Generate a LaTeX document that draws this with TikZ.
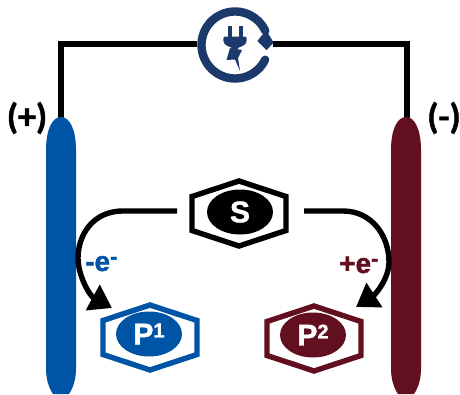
\documentclass[tikz,border=0pt]{standalone}
\usepackage{fontspec}
\setmainfont[BoldFeatures={FakeBold=1.3}]{Liberation Sans}
\newfontfamily\callab[BoldFeatures={FakeBold=1.3}]{Carlito}
\usetikzlibrary{arrows.meta,shapes.geometric}
\definecolor{eblue}{HTML}{0054A6}
\definecolor{emaroon}{HTML}{620F20}
\definecolor{iconblue}{HTML}{1B3A6B}
\tikzset{
  wire/.style={line width=5.4pt,black},
  curvearrow/.style={line width=5.4pt,black,-{Triangle[length=22pt,width=28pt]}},
  hexline/.style={line width=5.4pt,line join=miter},
  core/.style={ellipse,minimum width=66pt,minimum height=45pt,inner sep=0pt,text=white,font=\bfseries\fontsize{30}{30}\selectfont},
  chg/.style={font=\bfseries\fontsize{28}{28}\selectfont,inner sep=0pt},
  pol/.style={font=\callab\bfseries\fontsize{36}{36}\selectfont,inner sep=0pt,text=black},
}
\newcommand{\hexagonat}[3]{% cx cy colour
  \draw[hexline,draw=#3] (#1,#2-32) -- (#1+47,#2-16.5) -- (#1+47,#2+17.5) -- (#1,#2+33) -- (#1-47,#2+17.5) -- (#1-47,#2-16.5) -- cycle;
}
\begin{document}
\begin{tikzpicture}[x=1pt,y=-1pt]
\useasboundingbox (0,0) rectangle (460,394);
% wire
\coordinate (wL) at (61,122);
\coordinate (wTL) at (61,44);
\coordinate (iL) at (200,44);
\coordinate (iR) at (272,44);
\coordinate (wTR) at (407,44);
\coordinate (wR) at (407,122);
\draw[wire,line join=miter] (wL) -- (wTL) -- (iL);
\draw[wire,line join=miter] (iR) -- (wTR) -- (wR);
% electrodes
\fill[eblue] (46,150) .. controls (46,130) and (52,117) .. (61,117) .. controls (70,117) and (76,130) .. (76,150)
  -- (76,368) .. controls (76,380) and (73,388) .. (69,394) -- (53,394) .. controls (49,388) and (46,380) .. (46,368) -- cycle;
\fill[emaroon] (391,150) .. controls (391,130) and (397,117) .. (406,117) .. controls (415,117) and (421,130) .. (421,150)
  -- (421,368) .. controls (421,380) and (418,388) .. (414,394) -- (398,394) .. controls (394,388) and (391,380) .. (391,368) -- cycle;
% power icon
\fill[white] (235,45) circle (38);
\draw[iconblue,line width=8.4pt,line cap=round] (235,45) ++(26:33.5) arc (26:335:33.5);
\fill[iconblue,line join=round,draw=iconblue,line width=1pt] (273,42.5) -- (266.5,49.5) -- (258,41) -- (266,31) -- cycle;
% plug
\fill[iconblue] (227.5,26) rectangle (231.5,37);
\fill[iconblue] (238.5,26) rectangle (242.5,37);
\fill[iconblue,rounded corners=2pt] (223.3,36.5) -- (246.7,36.5) -- (246.7,40) .. controls (246,45) and (240,47) .. (238,47) -- (238,50) -- (232,50) -- (232,47) .. controls (230,47) and (224,45) .. (223.3,40) -- cycle;
\fill[iconblue] (230,48) -- (242,50) -- (238,58) -- (240,71) -- (235,59.5) -- (226.5,60) -- cycle;
% hexagons
\hexagonat{239}{213}{black}
\hexagonat{150}{337}{eblue}
\hexagonat{314}{338}{emaroon}
\node[core,fill=black] (S) at (240,212) {S};
\node[core,fill=eblue] (P1) at (149,334) {P\raisebox{7pt}{\fontsize{20}{20}\selectfont 1}};
\node[core,fill=emaroon] (P2) at (313,335) {P\raisebox{7pt}{\fontsize{20}{20}\selectfont 2}};
% connectors
\coordinate (sA) at (177,211);
\coordinate (sB) at (304,211);
\coordinate (pA) at (112,308);
\coordinate (pB) at (356,307);
\draw[curvearrow] (sA) -- (123,211) .. controls (92,211) and (78,236) .. (78,258) .. controls (78,276) and (90,296) .. (pA);
\draw[curvearrow] (sB) -- (343,211) .. controls (372,211) and (389,236) .. (389,262) .. controls (389,278) and (376,294) .. (pB);
% labels
\node[chg,text=eblue,anchor=base west] (lm) at (85,271) {-e\raisebox{7pt}{\fontsize{22}{22}\selectfont -}};
\node[chg,text=emaroon,anchor=base west] (lp) at (339,273) {+e\raisebox{7pt}{\fontsize{22}{22}\selectfont -}};
\node[pol,anchor=center] (pp) at (27,118) {(+)};
\node[pol,anchor=center] (mm) at (444,118) {(-)};
\end{tikzpicture}
\end{document}
